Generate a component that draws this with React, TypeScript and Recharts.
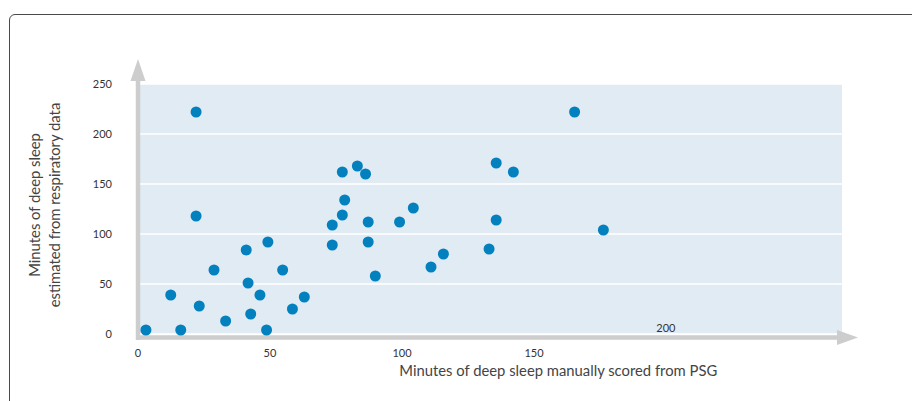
import { ScatterChart, Scatter, XAxis, YAxis, CartesianGrid } from "recharts";

/* ── Data ───────────────────────────────────────────────────── */
const psgMinutes = [
  3, 12.4, 16.2, 22, 22, 23.2, 28.8, 33.2, 41, 41.7, 42.7, 46.2, 49.2, 48.7,
  54.8, 58.5, 63, 73.6, 73.6, 77.4, 77.4, 78.3, 83.1, 86.2, 87.2, 87.2, 89.9,
  99.1, 104.3, 111, 115.7, 133, 135.7, 135.7, 142.2, 165.4, 176.3,
];
const respMinutes = [
  4, 39, 4, 222, 118, 28, 64, 13, 84, 51, 20, 39, 92, 4, 64, 25, 37, 109, 89,
  162, 119, 134, 168, 160, 112, 92, 58, 112, 126, 67, 80, 85, 171, 114, 162,
  222, 104,
];
const xTicks = [0, 50, 100, 150, 200];
const yTicks = [0, 50, 100, 150, 200, 250];
const xMax = 266.7;
const yMax = 250;

const FONT = "Lato, 'Open Sans', sans-serif";
const AXIS_GREY = "#cdcdcd";
const DOT = "#0381be";

const points = psgMinutes.map((x, i) => ({ x, y: respMinutes[i] }));

/* ── X tick: the "200" label sits above the axis in the original ── */
// eslint-disable-next-line @typescript-eslint/no-explicit-any
function XTick({ x, y, payload }: any) {
  const inside = payload.value === 200;
  return (
    <text
      x={x}
      y={inside ? y - 2 : y + 23}
      textAnchor="middle"
      fontSize={11}
      fill="#333"
      fontFamily={FONT}
    >
      {payload.value}
    </text>
  );
}

/* ── X axis arrow + title ──────────────────────────────────── */
// eslint-disable-next-line @typescript-eslint/no-explicit-any
function XAxisDecor({ viewBox }: any) {
  if (!viewBox) return null;
  const { x, y, width } = viewBox;
  const ly = y + 3.5;
  const end = x + width;
  return (
    <g>
      <line x1={x - 2} y1={ly} x2={end - 2} y2={ly} stroke={AXIS_GREY} strokeWidth={4.5} />
      <polygon
        points={`${end - 5},${ly - 7.5} ${end + 16},${ly} ${end - 5},${ly + 7.5}`}
        fill={AXIS_GREY}
      />
      <text
        x={x + width * 0.597}
        y={y + 42}
        textAnchor="middle"
        fontSize={14.8}
        fill="#444"
        fontFamily={FONT}
      >
        Minutes of deep sleep manually scored from PSG
      </text>
    </g>
  );
}

/* ── Y axis arrow + two-line title ─────────────────────────── */
// eslint-disable-next-line @typescript-eslint/no-explicit-any
function YAxisDecor({ viewBox }: any) {
  if (!viewBox) return null;
  const { x, y, width, height } = viewBox;
  const ax = x + width;
  const cy = y + height / 2 - 4;
  return (
    <g>
      <line x1={ax} y1={y - 6} x2={ax} y2={y + height + 6} stroke={AXIS_GREY} strokeWidth={4.5} />
      <polygon
        points={`${ax - 7.5},${y - 3} ${ax},${y - 25} ${ax + 7.5},${y - 3}`}
        fill={AXIS_GREY}
      />
      <text
        x={x + 40}
        y={cy}
        transform={`rotate(-90, ${x + 40}, ${cy})`}
        textAnchor="middle"
        fontSize={14.8}
        fill="#444"
        fontFamily={FONT}
      >
        Minutes of deep sleep
      </text>
      <text
        x={x + 60}
        y={cy}
        transform={`rotate(-90, ${x + 60}, ${cy})`}
        textAnchor="middle"
        fontSize={14.8}
        fill="#444"
        fontFamily={FONT}
      >
        estimated from respiratory data
      </text>
    </g>
  );
}

export default function App() {
  return (
    <div style={{ position: "fixed", inset: 0, overflow: "hidden", background: "#fff" }}>
      <div
        style={{
          position: "absolute",
          left: 9,
          top: 14,
          width: 1000,
          height: 500,
          border: "1.5px solid #4a4a4a",
          borderRadius: 6,
          boxSizing: "border-box",
        }}
      />
      <div style={{ position: "absolute", left: 0, top: 0 }}>
        <ScatterChart
          width={912}
          height={401}
          margin={{ top: 84, right: 70, bottom: 0, left: 0 }}
        >
          <CartesianGrid
            vertical={false}
            fill="#e1ebf4"
            stroke="#ffffff"
            strokeWidth={1.5}
          />
          <XAxis
            type="number"
            dataKey="x"
            domain={[0, xMax]}
            ticks={xTicks}
            height={67}
            axisLine={false}
            tickLine={false}
            tickSize={0}
            tickMargin={0}
            tick={<XTick />}
            label={<XAxisDecor />}
          />
          <YAxis
            type="number"
            dataKey="y"
            domain={[0, yMax]}
            ticks={yTicks}
            width={138}
            axisLine={false}
            tickLine={false}
            tickSize={0}
            tickMargin={26}
            tick={{ fontSize: 11, fill: "#333", fontFamily: FONT }}
            label={<YAxisDecor />}
          />
          <Scatter
            data={points}
            isAnimationActive={false}
            // eslint-disable-next-line @typescript-eslint/no-explicit-any
            shape={(p: any) => <circle cx={p.cx} cy={p.cy} r={5.5} fill={DOT} />}
          />
        </ScatterChart>
      </div>
    </div>
  );
}
